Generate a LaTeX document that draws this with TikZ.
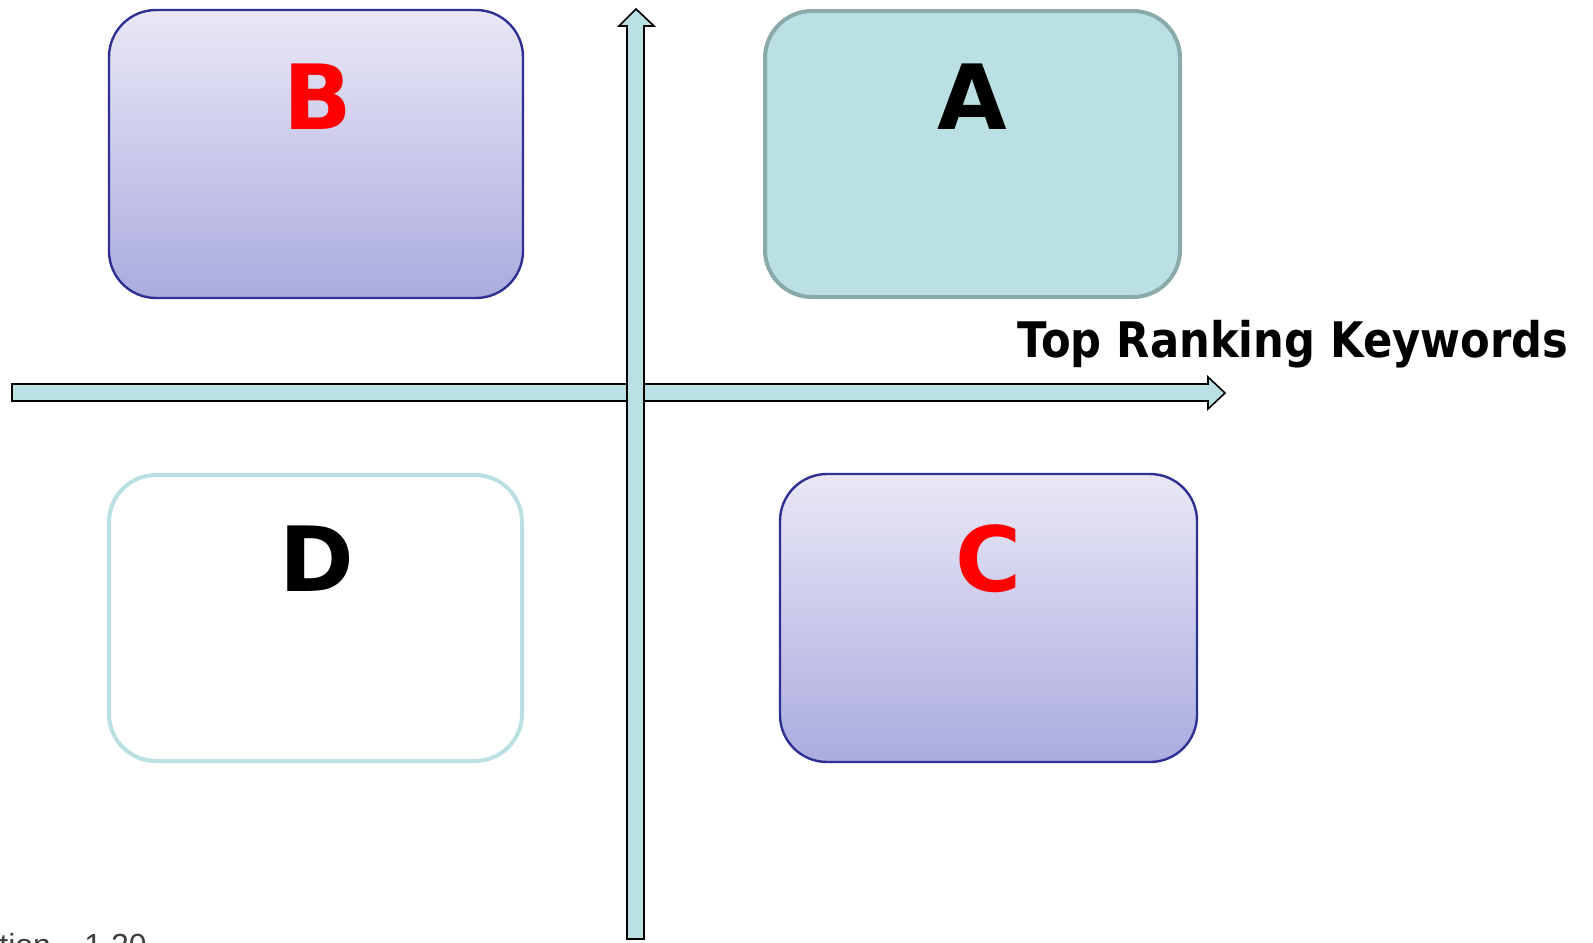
\documentclass[tikz,border=0pt]{standalone}
\usepackage{fontspec}
\setmainfont{DejaVu Sans}
\newfontfamily\labelfont{Liberation Sans}
\definecolor{shaftfill}{HTML}{BBE0E3}
\definecolor{afill}{HTML}{BAE0E3}
\definecolor{aborder}{HTML}{8AA9A9}
\definecolor{bborder}{HTML}{2E3192}
\definecolor{gradtop}{HTML}{E9E8F6}
\definecolor{gradbot}{HTML}{ABABDF}
\definecolor{letterred}{HTML}{FF0000}
\begin{document}
\begin{tikzpicture}[x=0.5pt,y=-0.5pt,
  quad/.style={rectangle, rounded corners=23.5pt, inner sep=0pt, outer sep=0pt},
  bluequad/.style={quad, draw=bborder, line width=1.2pt, top color=gradtop, bottom color=gradbot},
  tealquad/.style={quad, draw=aborder, line width=2pt, fill=afill},
  whitequad/.style={quad, draw=shaftfill, line width=2pt, fill=white},
  letter/.style={font=\fontsize{45}{54}\selectfont\bfseries, anchor=base, inner sep=0pt},
  axis/.style={draw=black, line width=0.8pt, fill=shaftfill, line join=miter},
  foot/.style={anchor=base west, inner sep=0pt, text=black!75, font=\labelfont\fontsize{16}{18}\selectfont}
]
\useasboundingbox (0,0) rectangle (1593,942);
\fill[white] (0,0) rectangle (1593,942);

% quadrant boxes
\node[bluequad, minimum width=207pt, minimum height=144pt] (B) at (316,154) {};
\node[tealquad, minimum width=207.5pt, minimum height=143pt] (A) at (972.5,154) {};
\node[whitequad, minimum width=206.5pt, minimum height=143pt] (D) at (315.5,618) {};
\node[bluequad, minimum width=208.5pt, minimum height=144pt] (C) at (988.5,618) {};

\node[letter, text=letterred] (Bl) at (318,129) {B};
\node[letter, text=black] (Al) at (972,129) {A};
\node[letter, text=black] (Dl) at (317,591) {D};
\node[letter, text=letterred] (Cl) at (989,591) {C};

% horizontal axis
\path[axis] (12,384) -- (1208,384) -- (1208,377) -- (1225,393) -- (1208,409)
  -- (1208,401) -- (12,401) -- cycle;
% vertical axis
\path[axis] (627,939) -- (627,26) -- (619,26) -- (636,9) -- (654,26)
  -- (644,26) -- (644,939) -- cycle;

% axis label
\node[anchor=base west, inner sep=0pt] (xlabel) at (1017,357)
  {\resizebox{275.5pt}{\height}{\fontsize{24.5}{28}\selectfont\bfseries Top Ranking Keywords}};

% cropped text at bottom left
\node[foot] (foot1) at (-1,956) {tion};
\node[foot] (foot2) at (84,956) {1.20};
\end{tikzpicture}
\end{document}
